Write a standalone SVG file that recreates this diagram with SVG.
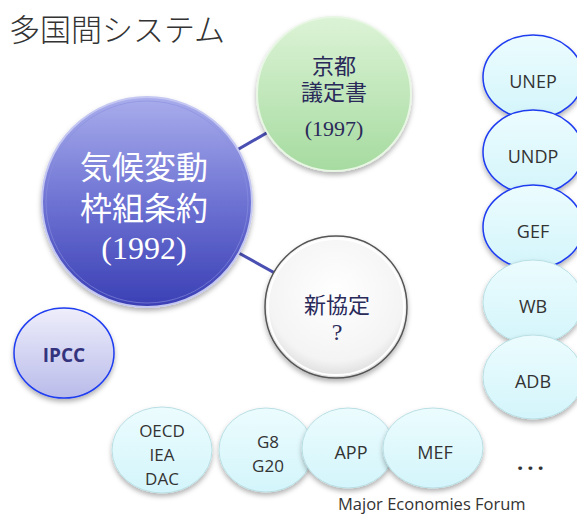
<svg xmlns="http://www.w3.org/2000/svg" width="577" height="515" viewBox="0 0 577 515">
<defs>
<linearGradient id="gBlue" x1="0" y1="0" x2="0" y2="1">
<stop offset="0" stop-color="#a9adec"/>
<stop offset="0.5" stop-color="#6e73d3"/>
<stop offset="1" stop-color="#3a3fb4"/>
</linearGradient>
<linearGradient id="gGreen" x1="0" y1="0" x2="0" y2="1">
<stop offset="0" stop-color="#dcf3d6"/>
<stop offset="1" stop-color="#a6dba0"/>
</linearGradient>
<radialGradient id="gWhite" cx="0.5" cy="0.4" r="0.6">
<stop offset="0" stop-color="#ffffff"/>
<stop offset="0.8" stop-color="#f4f4f4"/>
<stop offset="1" stop-color="#dcdcdc"/>
</radialGradient>
<linearGradient id="gLav" x1="0" y1="0" x2="0" y2="1">
<stop offset="0" stop-color="#eeeefb"/>
<stop offset="1" stop-color="#b9bbea"/>
</linearGradient>
<linearGradient id="gCyan" x1="0" y1="0" x2="0" y2="1">
<stop offset="0" stop-color="#ecfcfe"/>
<stop offset="1" stop-color="#d3f5fb"/>
</linearGradient>
<filter id="sh" x="-20%" y="-20%" width="140%" height="150%">
<feDropShadow dx="0" dy="3" stdDeviation="2.5" flood-color="#000" flood-opacity="0.3"/>
</filter>
</defs>
<style>
.serif{font-family:"Liberation Serif","Noto Sans CJK JP",serif;}
.sans{font-family:"Open Sans","DejaVu Sans",sans-serif;fill:#333;}
.cyan{fill:url(#gCyan);filter:url(#sh);}
.cyanB{stroke:#1f3cf0;stroke-width:1.5;}
.cyanG{stroke:#b9dfe4;stroke-width:1;}
.lbl{font-size:18px;text-anchor:middle;}
.conn{stroke:#4a4fb2;stroke-width:3;fill:none;}
</style>
<text x="9" y="41" class="serif" font-size="31" fill="#333" font-weight="300">多国間システム</text>
<g id="connectors">
<line class="conn" x1="147" y1="202" x2="334" y2="94"/>
<line class="conn" x1="147" y1="202" x2="336" y2="307"/>
</g>
<g id="kyoto">
<circle cx="334" cy="94" r="77" fill="url(#gGreen)" stroke="#e8f6e4" stroke-width="2" filter="url(#sh)"/>
<g class="serif" fill="#2a2a5a" font-size="22" text-anchor="middle">
<text x="334" y="74">京都</text>
<text x="334" y="100">議定書</text>
<text x="334" y="136">(1997)</text>
</g>
</g>
<g id="unfccc">
<circle cx="147" cy="202" r="105" fill="url(#gBlue)" stroke="#c4c7f2" stroke-width="2" filter="url(#sh)"/>
<circle cx="147" cy="202" r="101" fill="none" stroke="#8a8fe0" stroke-width="1" opacity="0.6"/>
<g class="serif" fill="#fff" font-size="32" text-anchor="middle">
<text x="144" y="179">気候変動</text>
<text x="144" y="220">枠組条約</text>
<text x="144" y="259">(1992)</text>
</g>
</g>
<g id="newagreement">
<circle cx="336" cy="307" r="71" fill="url(#gWhite)" stroke="#555" stroke-width="1.5" filter="url(#sh)"/>
<circle cx="336" cy="307" r="68" fill="none" stroke="#fff" stroke-width="2"/>
<g class="serif" fill="#2a2a5a" font-size="22" text-anchor="middle">
<text x="337" y="313">新協定</text>
<text x="337" y="340" font-size="24">?</text>
</g>
</g>
<g id="ipcc">
<ellipse cx="64" cy="353" rx="50" ry="45" fill="url(#gLav)" stroke="#1f3cf0" stroke-width="1.5" filter="url(#sh)"/>
<text x="64" y="362" class="sans" font-size="19" font-weight="bold" text-anchor="middle" style="fill:#34347e">IPCC</text>
</g>
<g id="unep">
<ellipse class="cyan cyanB" cx="533" cy="77" rx="50" ry="42"/>
<text class="sans lbl" x="533" y="88">UNEP</text>
</g>
<g id="undp">
<ellipse class="cyan cyanB" cx="533" cy="152" rx="50" ry="42"/>
<text class="sans lbl" x="533" y="163">UNDP</text>
</g>
<g id="gef">
<ellipse class="cyan cyanB" cx="533" cy="227" rx="50" ry="42"/>
<text class="sans lbl" x="533" y="238">GEF</text>
</g>
<g id="wb">
<ellipse class="cyan cyanG" cx="533" cy="302" rx="50" ry="42"/>
<text class="sans lbl" x="533" y="313">WB</text>
</g>
<g id="adb">
<ellipse class="cyan cyanG" cx="533" cy="377" rx="50" ry="42"/>
<text class="sans lbl" x="533" y="388">ADB</text>
</g>
<g id="oecd">
<ellipse class="cyan cyanG" cx="162" cy="450" rx="50" ry="43"/>
<g class="sans" font-size="17" text-anchor="middle">
<text x="162" y="437">OECD</text>
<text x="162" y="461">IEA</text>
<text x="162" y="485">DAC</text>
</g>
</g>
<g id="g8">
<ellipse class="cyan cyanG" cx="266" cy="450" rx="47" ry="42"/>
<g class="sans" font-size="17" text-anchor="middle">
<text x="268" y="448">G8</text>
<text x="268" y="472">G20</text>
</g>
</g>
<g id="app">
<ellipse class="cyan cyanG" cx="348" cy="448" rx="46" ry="40"/>
<text class="sans lbl" x="351" y="459" font-size="19">APP</text>
</g>
<g id="mef">
<ellipse class="cyan cyanG" cx="433" cy="448" rx="50" ry="40"/>
<text class="sans lbl" x="435" y="459" font-size="19">MEF</text>
</g>
<text x="517" y="470" class="sans" font-size="22" font-weight="bold" letter-spacing="4">...</text>
<text x="338" y="510" class="sans" font-size="16.5">Major Economies Forum</text>
</svg>
